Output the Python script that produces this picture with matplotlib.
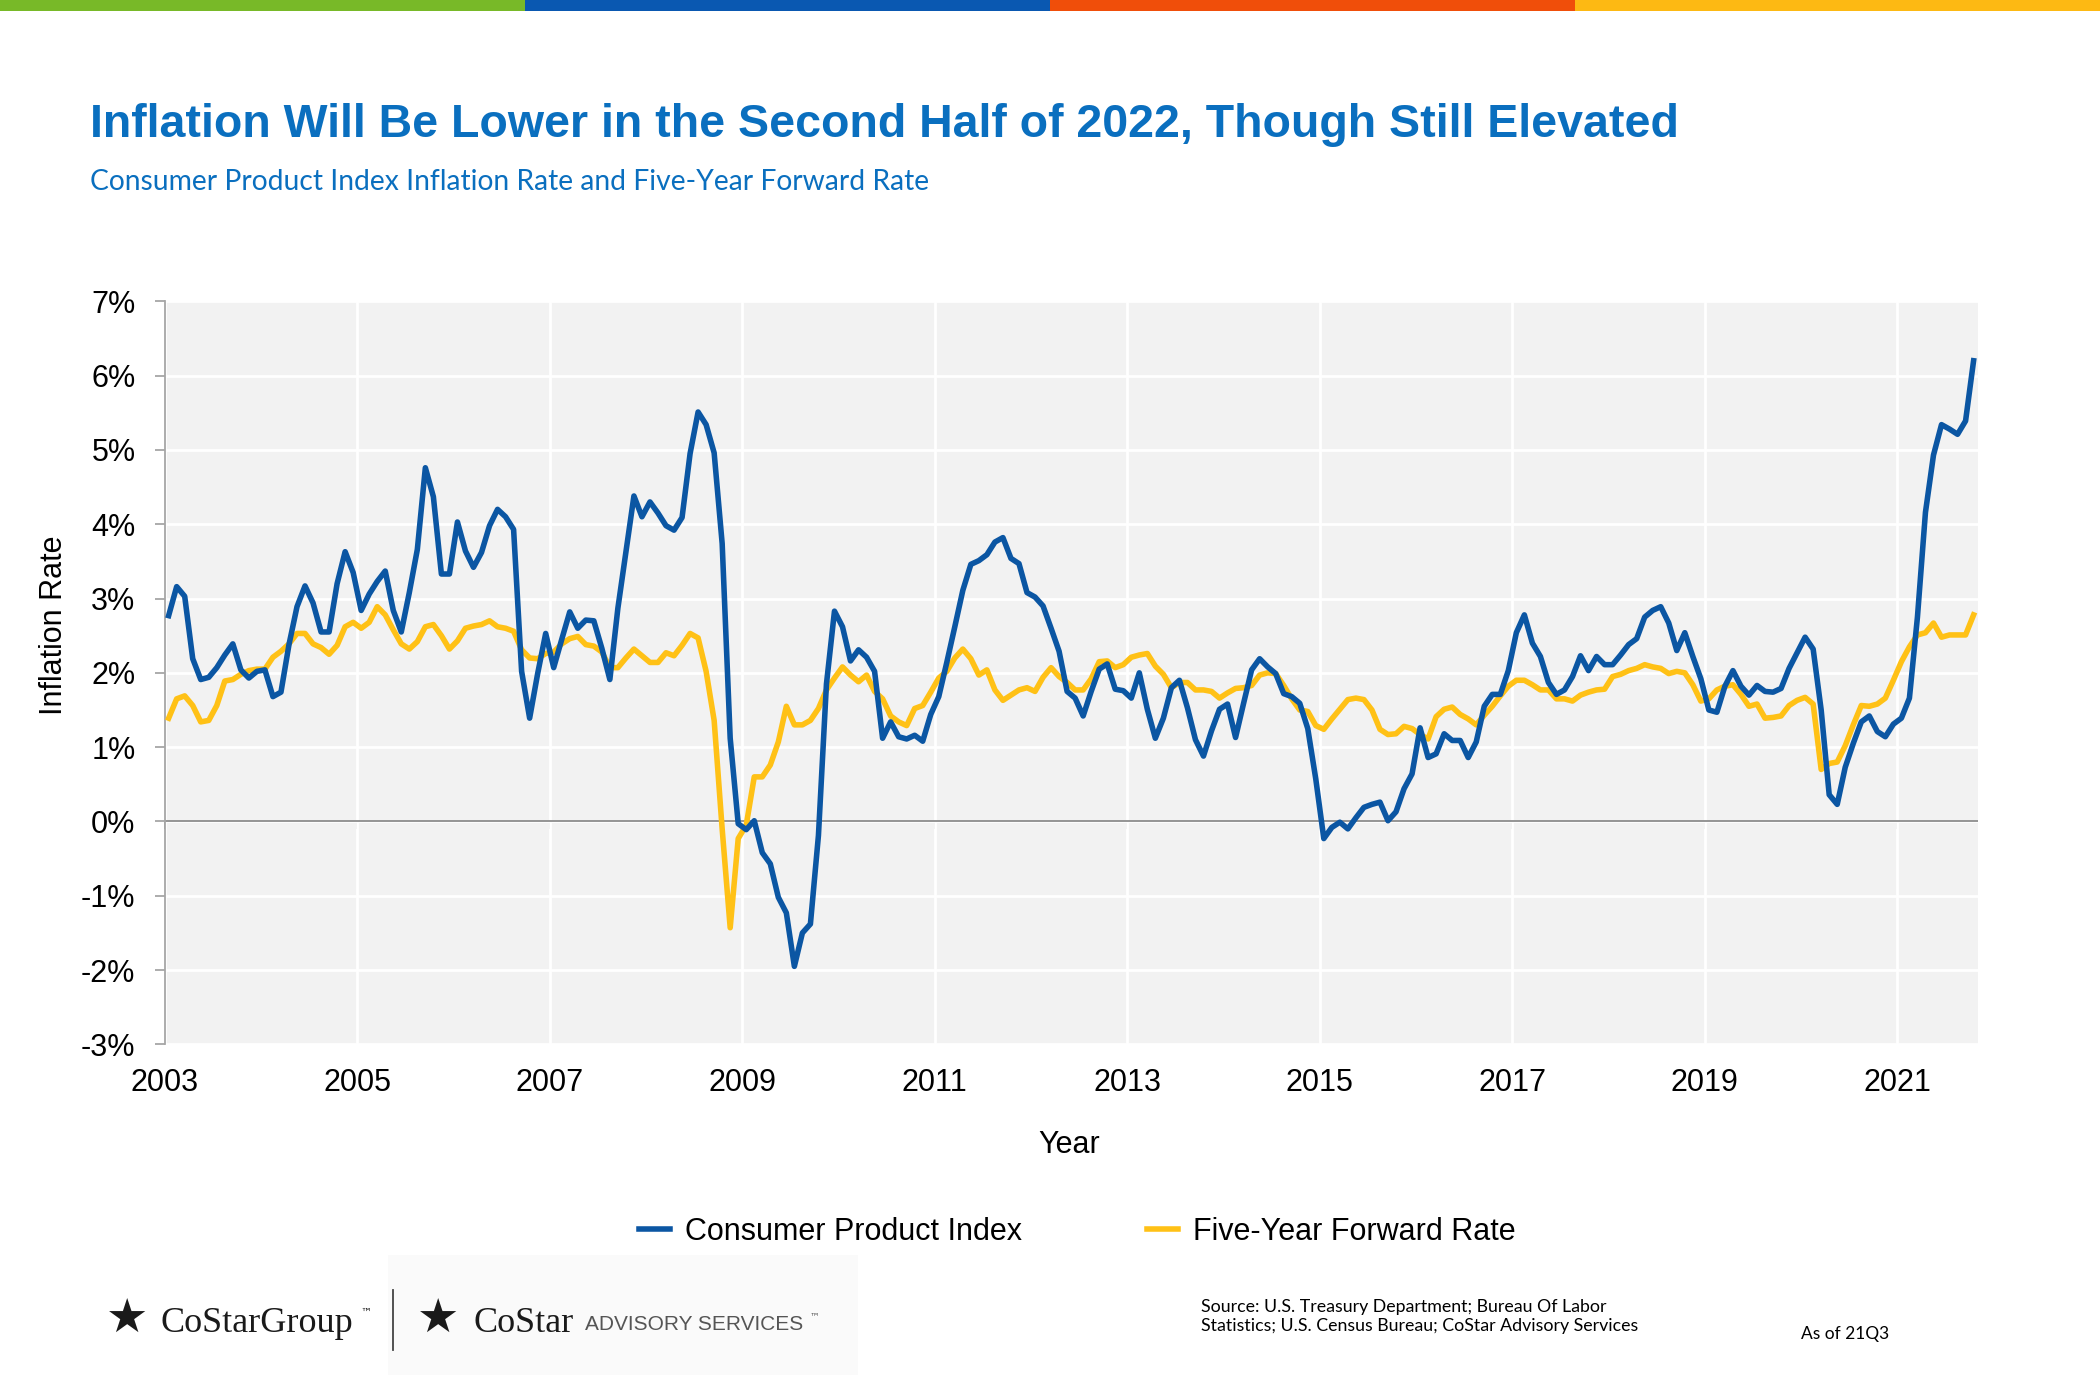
import matplotlib
matplotlib.use("Agg")
import matplotlib.pyplot as plt
import numpy as np
import pandas as pd
from matplotlib.patches import Rectangle
from matplotlib.lines import Line2D

# monthly series, Jan 2003 .. Oct 2021
cpi = [2.77, 3.16, 3.03, 2.19, 1.91, 1.94, 2.07, 2.24, 2.39, 2.04, 1.93, 2.02,
       2.04, 1.68, 1.74, 2.38, 2.89, 3.17, 2.94, 2.55, 2.55, 3.20, 3.63, 3.35,
       2.84, 3.06, 3.23, 3.37, 2.84, 2.55, 3.08, 3.66, 4.76, 4.37, 3.33, 3.33,
       4.03, 3.64, 3.42, 3.62, 3.98, 4.20, 4.10, 3.93, 2.02, 1.39, 1.99, 2.53,
       2.07, 2.45, 2.82, 2.60, 2.71, 2.70, 2.33, 1.91, 2.87, 3.62, 4.38, 4.10,
       4.30, 4.15, 3.98, 3.92, 4.09, 4.95, 5.51, 5.34, 4.96, 3.74, 1.12, -0.03,
       -0.11, 0.01, -0.42, -0.57, -1.02, -1.23, -1.95, -1.50, -1.38, -0.19, 1.85, 2.83,
       2.62, 2.16, 2.31, 2.21, 2.02, 1.12, 1.34, 1.14, 1.11, 1.16, 1.08, 1.44,
       1.68, 2.14, 2.62, 3.11, 3.46, 3.51, 3.59, 3.76, 3.82, 3.54, 3.47, 3.08,
       3.02, 2.90, 2.60, 2.29, 1.75, 1.66, 1.42, 1.75, 2.05, 2.12, 1.78, 1.76,
       1.66, 2.00, 1.51, 1.12, 1.39, 1.80, 1.90, 1.53, 1.10, 0.88, 1.22, 1.51,
       1.58, 1.13, 1.59, 2.04, 2.19, 2.08, 1.99, 1.72, 1.68, 1.59, 1.25, 0.57,
       -0.23, -0.08, -0.01, -0.10, 0.05, 0.19, 0.23, 0.26, 0.01, 0.13, 0.44, 0.64,
       1.26, 0.86, 0.91, 1.18, 1.09, 1.09, 0.86, 1.07, 1.55, 1.71, 1.71, 2.03,
       2.54, 2.78, 2.40, 2.22, 1.87, 1.71, 1.77, 1.95, 2.23, 2.03, 2.22, 2.11,
       2.11, 2.24, 2.38, 2.46, 2.75, 2.84, 2.89, 2.67, 2.30, 2.54, 2.22, 1.92,
       1.50, 1.47, 1.82, 2.03, 1.82, 1.70, 1.83, 1.75, 1.74, 1.79, 2.06, 2.27,
       2.48, 2.32, 1.50, 0.36, 0.23, 0.73, 1.05, 1.34, 1.42, 1.21, 1.14, 1.31,
       1.39, 1.66, 2.75, 4.16, 4.93, 5.34, 5.28, 5.21, 5.39, 6.20]

fwd = [1.39, 1.65, 1.69, 1.56, 1.34, 1.36, 1.56, 1.89, 1.91, 1.98, 2.03, 2.05,
       2.05, 2.21, 2.29, 2.39, 2.53, 2.53, 2.39, 2.34, 2.25, 2.37, 2.62, 2.68,
       2.60, 2.68, 2.89, 2.78, 2.58, 2.39, 2.32, 2.42, 2.62, 2.65, 2.50, 2.32,
       2.43, 2.60, 2.63, 2.65, 2.70, 2.62, 2.60, 2.56, 2.31, 2.20, 2.19, 2.26,
       2.28, 2.39, 2.46, 2.49, 2.38, 2.36, 2.28, 2.07, 2.07, 2.20, 2.32, 2.23,
       2.14, 2.14, 2.27, 2.23, 2.37, 2.53, 2.47, 2.02, 1.36, -0.10, -1.43, -0.23,
       -0.05, 0.60, 0.60, 0.76, 1.07, 1.55, 1.30, 1.30, 1.36, 1.52, 1.77, 1.93,
       2.08, 1.97, 1.88, 1.97, 1.75, 1.65, 1.42, 1.34, 1.29, 1.52, 1.56, 1.74,
       1.93, 2.02, 2.20, 2.32, 2.19, 1.97, 2.04, 1.77, 1.63, 1.70, 1.77, 1.80,
       1.75, 1.94, 2.07, 1.95, 1.87, 1.77, 1.77, 1.92, 2.15, 2.16, 2.07, 2.11,
       2.21, 2.24, 2.26, 2.09, 1.98, 1.80, 1.87, 1.87, 1.77, 1.77, 1.75, 1.66,
       1.73, 1.79, 1.80, 1.83, 1.97, 2.00, 1.99, 1.83, 1.65, 1.50, 1.48, 1.29,
       1.24, 1.38, 1.51, 1.64, 1.66, 1.64, 1.50, 1.24, 1.17, 1.18, 1.28, 1.25,
       1.17, 1.11, 1.41, 1.51, 1.54, 1.44, 1.38, 1.30, 1.43, 1.55, 1.69, 1.82,
       1.90, 1.90, 1.84, 1.77, 1.77, 1.65, 1.65, 1.62, 1.70, 1.74, 1.77, 1.78,
       1.95, 1.98, 2.03, 2.06, 2.11, 2.08, 2.06, 1.99, 2.02, 2.00, 1.84, 1.62,
       1.65, 1.77, 1.82, 1.84, 1.71, 1.55, 1.58, 1.39, 1.40, 1.42, 1.56, 1.63,
       1.67, 1.58, 0.70, 0.78, 0.80, 1.02, 1.30, 1.56, 1.55, 1.58, 1.66, 1.90,
       2.15, 2.35, 2.51, 2.54, 2.67, 2.48, 2.51, 2.51, 2.51, 2.78]

year_ticks = list(range(2003, 2022, 2))
pct_ticks = list(range(-3, 8))
series_names = ["Consumer Product Index", "Five-Year Forward Rate"]

BLUE = "#0B56A3"
YELLOW = "#FFC116"
GRAY = "#8C8C8C"

dates = pd.date_range("2003-01-01", periods=len(cpi), freq="MS")
xs = dates.year + (dates.month - 0.5) / 12.0

fig = plt.figure(figsize=(21, 14), dpi=100)

# colour strip along the top
for i, c in enumerate(["#78B928", "#0A58B1", "#F04E0A", "#FDB913"]):
    fig.patches.append(Rectangle((i * 0.25, 1 - 11 / 1400), 0.25, 11 / 1400,
                                 transform=fig.transFigure, color=c, lw=0))

fig.text(0.0427, 1 - 125 / 1400,
         "Inflation Will Be Lower in the Second Half of 2022, Though Still Elevated",
         fontsize=33.5, fontweight="bold", color="#0A6FBF", family="Liberation Sans",
         va="center", ha="left")
fig.text(0.0427, 1 - 182 / 1400,
         "Consumer Product Index Inflation Rate and Five-Year Forward Rate",
         fontsize=20.3, color="#0A6FBF", family="Lato", va="center", ha="left")

ax = fig.add_axes([0.0784, 0.254, 0.8633, 0.5308])
ax.set_facecolor("#F2F2F2")
ax.plot(xs, fwd, color=YELLOW, lw=4, zorder=3)
ax.plot(xs, cpi, color=BLUE, lw=4, zorder=4)
ax.axhline(0, color=GRAY, lw=1.3, zorder=2)

ax.set_xlim(2003, 2021.833)
ax.set_ylim(-3, 7)
ax.set_yticks(pct_ticks)
ax.set_yticklabels([f"{v}%" for v in pct_ticks])
ax.set_xticks(year_ticks)
ax.set_xticklabels([str(y) for y in year_ticks])
ax.grid(True, color="white", lw=2)
ax.set_axisbelow(True)

for s in ["top", "right", "bottom"]:
    ax.spines[s].set_visible(False)
ax.spines["left"].set_color("#A6A6A6")
ax.spines["left"].set_linewidth(1.3)

ax.tick_params(axis="y", direction="out", length=7, width=1.3, color="#A6A6A6",
               labelsize=22, pad=14)
ax.tick_params(axis="x", length=0, labelsize=22, pad=17)
for lbl in ax.get_xticklabels() + ax.get_yticklabels():
    lbl.set_family("Liberation Sans")

# tick marks sit on the 0% line
sec = ax.secondary_xaxis(0.3)
sec.set_xticks(year_ticks)
sec.tick_params(length=6, width=1.3, color=GRAY, direction="out", labelbottom=False)
sec.spines["bottom"].set_visible(False)

ax.set_ylabel("Inflation Rate", fontsize=22, family="Liberation Sans")
ax.yaxis.set_label_coords(-0.0527, 0.564)
fig.text(1069 / 2100, 1 - 1145 / 1400, "Year", fontsize=22, family="Liberation Sans",
         ha="center", va="center")

handles = [Line2D([], [], color=BLUE, lw=4), Line2D([], [], color=YELLOW, lw=4)]
fig.legend(handles, series_names, loc="center", bbox_to_anchor=(0.513, 0.12),
           ncol=2, frameon=False, prop={"family": "Liberation Sans", "size": 22},
           handlelength=1.0, handletextpad=0.5, columnspacing=4.1)

# footer: logos and source
fig.patches.append(Rectangle((388 / 2100, 1 - 1375 / 1400), 470 / 2100, 120 / 1400,
                             transform=fig.transFigure, color="#FAFAFA", lw=0))
fig.text(127 / 2100, 1 - 1320 / 1400, "\u2605", fontsize=34, color="#1A1A1A",
         family="DejaVu Sans", ha="center", va="center")
fig.text(161 / 2100, 1 - 1323 / 1400, "CoStarGroup", fontsize=26,
         family="Liberation Serif", color="#1A1A1A", ha="left", va="center")
fig.text(360 / 2100, 1 - 1313 / 1400, "\u2122", fontsize=8,
         family="DejaVu Sans", color="#1A1A1A", ha="left", va="center")
fig.lines.append(Line2D([393 / 2100, 393 / 2100], [1 - 1290 / 1400, 1 - 1350 / 1400],
                        transform=fig.transFigure, color="#444444", lw=1.3))
fig.text(438 / 2100, 1 - 1320 / 1400, "\u2605", fontsize=34, color="#1A1A1A",
         family="DejaVu Sans", ha="center", va="center")
fig.text(474 / 2100, 1 - 1323 / 1400, "CoStar", fontsize=26,
         family="Liberation Serif", color="#1A1A1A", ha="left", va="center")
fig.text(585 / 2100, 1 - 1325 / 1400, "ADVISORY SERVICES", fontsize=15,
         family="Liberation Sans", color="#555555", ha="left", va="center")
fig.text(810 / 2100, 1 - 1316 / 1400, "\u2122", fontsize=7,
         family="DejaVu Sans", color="#555555", ha="left", va="center")

fig.text(1201 / 2100, 1 - 1307 / 1400,
         "Source: U.S. Treasury Department; Bureau Of Labor", fontsize=12.8,
         family="Lato", ha="left", va="center")
fig.text(1201 / 2100, 1 - 1326 / 1400,
         "Statistics; U.S. Census Bureau; CoStar Advisory Services", fontsize=12.8,
         family="Lato", ha="left", va="center")
fig.text(1801 / 2100, 1 - 1334 / 1400, "As of 21Q3", fontsize=12.5,
         family="Lato", ha="left", va="center")

fig.savefig("out.png", dpi=100, facecolor="white")
